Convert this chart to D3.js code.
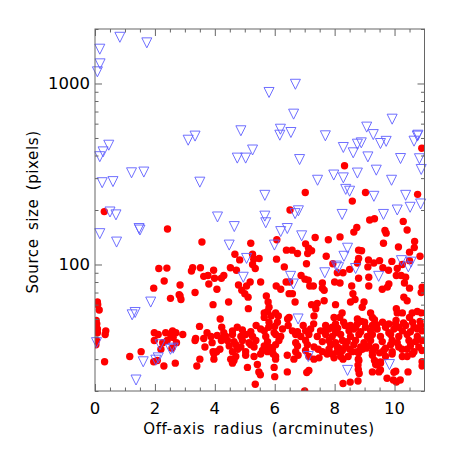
<!DOCTYPE html>
<html><head><meta charset="utf-8">
<style>html,body{margin:0;padding:0;background:#fff}svg{display:block}text{font-family:"DejaVu Sans",sans-serif;fill:#000}</style>
<script src="https://cdn.jsdelivr.net/npm/d3@7"></script></head>
<body><svg id="c" width="452" height="452"></svg>
<script>
const xLabel="Off-axis radius (arcminutes)", yLabel="Source size (pixels)";
const xMajorTicks=[0,2,4,6,8,10];
const xMinorTicks=[0.5,1,1.5,2.5,3,3.5,4.5,5,5.5,6.5,7,7.5,8.5,9,9.5,10.5];
const yMajorTicks=[100,1000];
const yMinorTicks=[20,30,40,50,60,70,80,90,200,300,400,500,600,700,800,900,2000];
const undetected=[[0.83,1800],[1.73,1677],[0.16,1547],[0.17,1284],[0.08,1160],[0.46,456],[0.27,419],[0.16,394],[3.11,486],[3.34,512],[1.22,321],[1.63,324],[0.24,283],[0.6,287],[3.5,285],[0.5,195],[0.7,188],[4.09,183],[0.16,148],[0.72,133],[1.5,155],[1.47,158],[1.86,62],[1.24,52.7],[1.34,54.3],[2.17,36],[0.05,37],[2.52,34],[2.61,34.5],[2.03,29.6],[2.11,30.5],[1.61,29],[1.37,23],[4.48,128],[4.65,162],[4.87,548],[4.75,387],[5.03,387],[5.26,429],[5.81,892],[6.69,990],[6.63,677],[6.19,559],[6.17,518],[6.54,536],[7.69,514],[6.83,380],[5.67,241],[7.43,292],[7.97,312],[8.29,443],[8.29,301],[8.62,414],[8.76,462],[8.89,470],[9.07,574],[9.29,522],[9.11,393],[9.53,466],[9.72,479],[9.92,635],[8.76,320],[9.39,332],[9.9,292],[10.2,385],[10.65,480],[10.76,512],[10.78,518],[10.83,384],[10.89,335],[8.37,260],[8.5,254],[9.31,238],[10.37,241],[10.52,207],[10.09,200],[10.87,216],[9.63,189],[8.25,189],[6.79,198],[6.68,191],[5.67,185],[5.7,170],[6.42,158],[6.2,152],[6.9,144],[5.99,128],[8.43,123],[8.31,111],[5.06,108],[8.06,98],[8.13,96],[8.7,95],[7.67,90],[4.95,85],[6.53,86],[6.62,78],[9.47,86],[10.23,105],[10.46,97],[10.55,103],[6.78,50],[7.12,31],[9.83,28],[8.43,26]];
const detected=[[0.31,196],[10.91,439],[8.33,351],[7.02,250],[9.03,250],[10.77,244],[8.59,224],[6.51,200],[9.17,176],[9.33,179],[10.29,173],[8.74,160],[2.42,157],[3.57,133],[2.13,95],[2.4,95.5],[3.26,96],[3.22,92],[3.52,96],[3.96,93],[3.63,86],[3.77,87],[3.99,84],[4.22,84],[4.3,87],[2.31,81],[2.84,77],[3.8,78],[1.96,74],[4.07,73],[3.34,70],[2.81,68],[2.52,65],[2.84,67],[2.87,64],[3.94,60],[0.08,62],[0.09,60],[0.14,56],[0.04,49],[0.06,47],[0.08,44],[0.08,42],[0.36,43],[0.34,41],[0.05,38],[0.03,36],[4.18,50],[3.49,45.5],[4.23,45],[4.3,42],[1.98,42],[2.11,41],[2.36,42],[2.59,43],[2.7,42],[2.52,41],[2.93,41],[1.98,38],[2.41,38],[2.61,39.5],[2.72,37],[2.26,37],[2.2,34],[2.57,34.5],[3.36,39],[3.34,38],[3.74,42],[3.63,39],[3.87,40],[4.08,40.5],[4.28,39.5],[3.67,35],[3.91,37],[4.22,38],[3.94,33],[4.17,34],[4.06,33],[3.97,32],[3.97,30],[3.5,30],[1.54,33],[1.16,31],[0.32,29],[1.96,29],[2.08,29.5],[2.3,27.5],[2.68,28.5],[3.4,27.5],
[8.64,151],[9.68,154],[9.72,149],[10.42,155],[7.35,141],[7.79,137],[8.18,142],[6.07,137],[9.63,131],[10.67,134],[5.2,131],[7.03,130],[7.13,123],[7.23,119],[7.1,115],[10.13,125],[10.66,124],[6.39,120],[6.58,120],[6.76,115],[8.8,120],[8.9,119],[10.5,117],[4.67,114],[5.26,114],[7.72,111],[8.8,108],[10.85,111],[4.83,106],[5.3,107],[5.48,108],[6.06,107],[9.13,106],[9.31,102],[9.5,105],[9.91,104],[10.5,105],[8.76,102],[5.26,100],[7.06,101],[7.94,101],[9.11,97],[6.32,97],[9.61,96],[10.09,95],[10.26,100],[4.52,96],[5.35,95],[9.8,93],[4.72,93],[8.5,94],[8.28,90],[8.09,90],[6.88,87],[7.01,83],[10.06,87],[10.22,87],[10.37,85],[6.5,80],[6.38,80],[8.8,84],[9.14,85],[5.18,80],[5.53,80],[5.06,76],[4.79,77],[6.05,76],[7.12,82],[7.59,79],[8.0,80],[8.18,79],[7.17,76],[7.29,76],[7.59,74],[8.57,76],[9.14,76],[9.81,78],[9.76,75],[9.59,73],[10.33,79],[10.5,74],[10.92,75],[10.89,70],[4.9,72],[5.0,69],[8.61,69],[6.2,73],[6.48,69],[6.59,69],[5.11,66],[5.72,67],[7.65,72],[7.65,63],[7.42,61],[7.23,60],[5.78,62],[6.68,62],[4.46,62],[8.53,62],[8.68,64],[10.31,66],[10.42,63],[8.03,60],[8.98,62],[5.12,57],[5.81,58],[7.37,57],[7.31,52],[8.92,58],[10.06,57],[10.09,54],[5.65,54],[5.76,55],[6.03,54],[6.12,52],[5.65,51],[5.88,52],[6.48,51],[6.43,50],[8.25,54],[7.98,51],[8.17,51],[9.2,54],[9.26,51],[10.26,54],[10.59,54],[10.76,55],[10.9,54],[10.5,51],[8.76,50],[9.33,49.5],[5.81,48],[6.09,48],
[7.7,46],[7.92,45],[8.03,47],[8.53,46],[8.76,47],[9.03,45],[9.26,46],[9.81,47],[10.14,45],[10.37,46],[10.65,45],[10.87,46],
[4.59,43],[4.92,43.5],[5.2,42.5],[5.53,44],[5.65,43],[5.98,42],[6.26,44],[6.59,43],[6.76,42.5],[7.03,43],[7.2,44],[7.53,43],[7.81,44],[8.03,42],[8.48,43],[8.64,44],[8.87,42.5],[9.2,43],[9.42,44],[9.81,42],[9.98,44],[10.26,43],[10.53,42.5],[10.76,44],[10.92,43],
[4.37,40],[4.59,41],[4.87,40],[5.03,41],[5.26,40],[5.7,40],[6.03,41],[6.2,40],[6.7,41],[6.87,40],[7.14,41],[7.42,40],[7.7,41],[7.92,40],[8.2,41],[8.53,40],[8.81,41],[9.09,40],[9.26,41],[9.53,40],[9.87,41],[10.14,40],[10.42,41],[10.76,40],
[4.42,38],[4.64,37.5],[4.92,38],[5.14,37],[5.37,38],[5.76,37.5],[6.14,38],[6.7,37],[7.03,38],[7.59,37.5],[7.81,38],[8.03,37],[8.26,38],[8.42,37.5],[8.7,38],[8.98,37],[9.2,38],[9.59,37.5],[9.92,38],[10.09,37],[10.48,38],[10.7,37.5],[10.92,38],
[4.48,35.5],[4.7,36],[4.87,35],[5.2,36],[5.31,35],[5.65,35.5],[5.81,35],[6.03,36],[6.76,35.5],[7.09,36],[7.31,35],[7.87,36],[8.09,35],[8.37,35.5],[8.64,36],[8.87,35],[9.14,35.5],[9.37,35],[9.87,36],[10.14,35],[10.53,35.5],[10.81,35],
[4.59,33],[4.76,34],[5.03,33],[5.59,33.5],[5.76,33],[5.92,34],[6.7,33],[7.03,33.5],[7.59,33],[7.81,34],[8.09,33],[8.26,33.5],[8.59,33],[8.92,34],[9.26,33],[9.64,33.5],[9.92,33],[10.42,34],[10.65,33],[10.92,33.5],
[4.7,31],[5.03,31.5],[5.31,31],[5.53,32],[6.03,31],[6.42,31.5],[7.14,31],[7.92,32],[8.2,31],[9.26,31.5],[9.7,31],[9.92,32],[10.26,31],[10.42,31],
[4.53,30],[4.64,29.5],[6.03,30],[6.64,30],[7.31,30],[7.48,30.5],[8.28,30],[8.79,30],
[4.59,28.5],[5.09,27],[5.42,28],[5.98,27],[8.81,29.5],[9.37,28],[9.53,28.5],[10.92,29],[10.92,27.5],
[6.42,25.5],[6.0,24],[5.47,25.5],[5.52,24.6],[5.35,21.8],[7.14,26],[7.07,25.3],[7.0,20],[8.28,22],[8.52,22.4],[8.79,26.3],[8.78,27.8],[8.78,22.7],[8.82,25],[9.33,29.5],[9.42,27.8],[9.53,28.9],[9.53,26.1],[9.26,25.5],[9.48,25.5],[9.75,23.5],[9.96,23],[10.06,22.4],[10.19,23],[10.04,25.7],[10.45,25.5],[9.98,25.4],
[4.75,45],[5.38,46],[5.8,45],[6.45,46],[6.95,46],[7.3,47],[7.65,43],[8.1,44.5],[8.35,46],[8.7,45],[9.0,48],[9.4,46.5],[9.7,45],[10.03,47],[10.3,47.5],[10.6,48],[10.85,48.5],[5.9,34.5],[5.95,32],[6.78,31.5],[7.45,34],[7.75,32],[7.98,30.5],[8.15,34.5],[8.5,34],[8.8,32.5],[9.05,34.5],[9.3,34],[9.7,34.5],[10.25,34],[10.6,32],[8.45,31],[8.75,33],[9.5,32.5],[6.0,45.5],[8.3,48],[8.9,48.5],[9.6,48],[10.05,49]];

const L=95,R=424.5,T=29,B=391;
const x=d3.scaleLinear().domain([0,11]).range([L,R]);
const y=d3.scaleLog().domain([20,2000]).range([B,T]);
const svg=d3.select("#c");
svg.append("defs").append("clipPath").attr("id","plot").append("rect").attr("x",L).attr("y",T).attr("width",R-L).attr("height",B-T);

const red=svg.append("g").attr("clip-path","url(#plot)");
red.selectAll("circle").data(detected).join("circle")
  .attr("cx",d=>x(d[0])).attr("cy",d=>y(d[1])).attr("r",3.7).attr("fill","#ff0000");

const tri=d3.symbol().type({draw(c){const s=5;c.moveTo(-s,-s);c.lineTo(s,-s);c.lineTo(0,s);c.closePath();}}).size(1);
svg.append("g").selectAll("path").data(undetected).join("path")
  .attr("d",tri).attr("transform",d=>`translate(${x(d[0])},${y(d[1])})`)
  .attr("fill","none").attr("stroke","#5f5fff").attr("stroke-width",0.9);

function styleAxis(g){g.select(".domain").remove();g.selectAll("line").attr("stroke","#666").attr("stroke-width",1);g.selectAll("text").remove();}
const axes=[
 [d3.axisBottom(x),xMajorTicks,xMinorTicks,`translate(0,${B})`],
 [d3.axisTop(x),xMajorTicks,xMinorTicks,`translate(0,${T})`],
 [d3.axisLeft(y),yMajorTicks,yMinorTicks,`translate(${L},0)`],
 [d3.axisRight(y),yMajorTicks,yMinorTicks,`translate(${R},0)`]];
axes.forEach(([ax,maj,min,tr])=>{
  svg.append("g").attr("transform",tr).call(ax.tickValues(maj).tickSizeOuter(0).tickSizeInner(-7)).call(styleAxis);
  svg.append("g").attr("transform",tr).call(ax.tickValues(min).tickSizeOuter(0).tickSizeInner(-3.5)).call(styleAxis);
});
svg.append("rect").attr("x",L).attr("y",T).attr("width",R-L).attr("height",B-T).attr("fill","none").attr("stroke","#666").attr("stroke-width",1);

svg.append("g").selectAll("text").data(xMajorTicks).join("text")
  .attr("x",d=>x(d)).attr("y",414).attr("text-anchor","middle").attr("font-size",16.5).text(d=>d);
svg.append("g").selectAll("text").data(yMajorTicks).join("text")
  .attr("x",90).attr("y",d=>y(d)+6).attr("text-anchor","end").attr("font-size",16.5).text(d=>d);
svg.append("text").attr("x",259).attr("y",434).attr("text-anchor","middle").attr("font-size",15)
  .attr("letter-spacing",0.6).attr("word-spacing",3).text(xLabel);
svg.append("text").attr("transform","translate(38,212) rotate(-90)").attr("text-anchor","middle").attr("font-size",15)
  .attr("letter-spacing",0.6).attr("word-spacing",3).text(yLabel);
</script></body></html>
